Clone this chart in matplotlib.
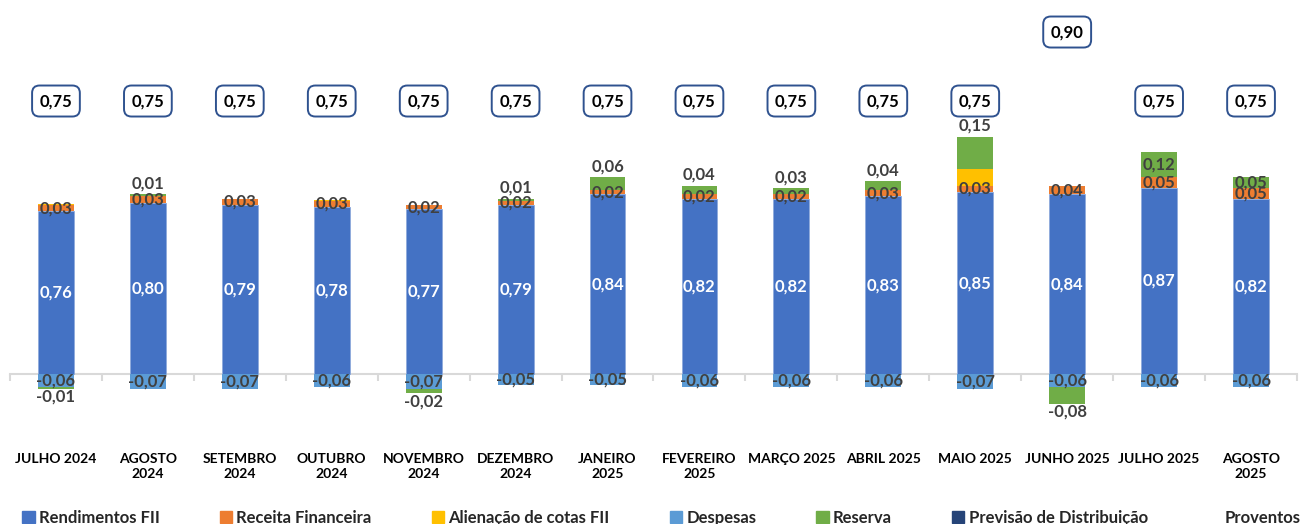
import matplotlib.pyplot as plt
from matplotlib.patches import Patch
from matplotlib.lines import Line2D
import numpy as np

plt.rcParams['font.family'] = ['Lato', 'DejaVu Sans']

# data
meses = ["JULHO 2024", "AGOSTO\n2024", "SETEMBRO\n2024", "OUTUBRO\n2024", "NOVEMBRO\n2024",
         "DEZEMBRO\n2024", "JANEIRO\n2025", "FEVEREIRO\n2025", "MARÇO 2025", "ABRIL 2025",
         "MAIO 2025", "JUNHO 2025", "JULHO 2025", "AGOSTO\n2025"]
rendimentos = [0.76, 0.80, 0.79, 0.78, 0.77, 0.79, 0.84, 0.82, 0.82, 0.83, 0.85, 0.84, 0.87, 0.82]
receita = [0.03, 0.03, 0.03, 0.03, 0.02, 0.02, 0.02, 0.02, 0.02, 0.03, 0.03, 0.04, 0.05, 0.05]
alienacao = [0.005, 0, 0, 0.005, 0, 0, 0, 0, 0, 0, 0.08, 0, 0, 0]
despesas = [-0.06, -0.07, -0.07, -0.06, -0.07, -0.05, -0.05, -0.06, -0.06, -0.06, -0.07, -0.06, -0.06, -0.06]
reserva = [-0.01, 0.01, 0, 0, -0.02, 0.01, 0.06, 0.04, 0.03, 0.04, 0.15, -0.08, 0.12, 0.05]
previsao = [0] * 14
proventos = [0.75] * 11 + [0.90, 0.75, 0.75]

C_REND = '#4472C4'
C_REC = '#ED7D31'
C_ALI = '#FFC000'
C_DESP = '#5B9BD5'
C_RES = '#70AD47'
C_PREV = '#264478'
TXT = '#404040'

# reserve labels drawn in the middle of the segment instead of above it
reserva_centro = {12, 13}


def fmt(v):
    return f"{v:.2f}".replace(".", ",")


fig = plt.figure(figsize=(13.03, 5.24), dpi=100)
ax = fig.add_axes([10 / 1303, 86 / 524, 1287 / 1303, 423 / 524])

x = np.arange(len(meses))
w = 0.39
rend = np.array(rendimentos)
rec = np.array(receita)
ali = np.array(alienacao)
desp = np.array(despesas)
res = np.array(reserva)
res_pos = np.where(res > 0, res, 0)
res_neg = np.where(res < 0, res, 0)

ax.bar(x, rend, w, color=C_REND, edgecolor='#8FAADC', linewidth=0.6)
ax.bar(x, rec, w, bottom=rend, color=C_REC)
ax.bar(x, ali, w, bottom=rend + rec, color=C_ALI)
ax.bar(x, res_pos, w, bottom=rend + rec + ali, color=C_RES)
ax.bar(x, desp, w, color=C_DESP)
ax.bar(x, res_neg, w, bottom=desp, color=C_RES)
ax.bar(x, previsao, w, color=C_PREV)

# data labels
for i in x:
    ax.text(i, rend[i] / 2, fmt(rend[i]), ha='center', va='center', color='white',
            fontsize=12, fontweight='bold')
    ax.text(i, rend[i] + rec[i] / 2, fmt(rec[i]), ha='center', va='center', color=TXT,
            fontsize=12, fontweight='bold')
    ax.text(i, desp[i] / 2, fmt(desp[i]), ha='center', va='center', color=TXT,
            fontsize=12, fontweight='bold')
    if res[i] > 0:
        topo = rend[i] + rec[i] + ali[i]
        if i in reserva_centro:
            ax.text(i, topo + res[i] / 2, fmt(res[i]), ha='center', va='center', color=TXT,
                    fontsize=12, fontweight='bold')
        else:
            ax.annotate(fmt(res[i]), (i, topo + res[i]), xytext=(0, 2), textcoords='offset points',
                        ha='center', va='bottom', color=TXT, fontsize=12, fontweight='bold')
    elif res[i] < 0:
        ax.annotate(fmt(res[i]), (i, desp[i] + res[i]), xytext=(0, 0), textcoords='offset points',
                    ha='center', va='top', color=TXT, fontsize=12, fontweight='bold')

ax.set_xlim(-0.5, len(meses) - 0.5)
ax.set_ylim(-0.299, 1.678)
for s in ['top', 'right', 'left']:
    ax.spines[s].set_visible(False)
ax.spines['bottom'].set_position(('data', 0))
ax.spines['bottom'].set_color('#D9D9D9')
ax.spines['bottom'].set_linewidth(1.5)
ax.spines['bottom'].set_zorder(0.5)
ax.set_yticks([])
ax.set_xticks(x)
ax.set_xticklabels(meses, fontsize=10, fontweight='bold', linespacing=1.3)
ax.set_xticks(np.arange(-0.5, len(meses), 1), minor=True)
ax.tick_params(axis='x', which='major', length=0, pad=57)
ax.tick_params(axis='x', which='minor', length=5, width=1.5, color='#D9D9D9')

# proventos on a secondary scale, shown as boxed labels
ax2 = ax.twinx()
ax2.set_ylim(0.0174, 0.937)
ax2.plot(x, proventos, linestyle='none')
for i in x:
    ax2.text(i, proventos[i], fmt(proventos[i]), ha='center', va='center', fontsize=12,
             fontweight='bold', color='black',
             bbox=dict(boxstyle='round,pad=0.45', fc='white', ec='#2F528F', lw=1.4))
ax2.set_yticks([])
for s in ax2.spines.values():
    s.set_visible(False)

handles = [
    Patch(color=C_REND, label='Rendimentos FII'),
    Patch(color=C_REC, label='Receita Financeira'),
    Patch(color=C_ALI, label='Alienação de cotas FII'),
    Patch(color=C_DESP, label='Despesas'),
    Patch(color=C_RES, label='Reserva'),
    Patch(color=C_PREV, label='Previsão de Distribuição'),
    Line2D([], [], linestyle='none', label='Proventos'),
]
fig.legend(handles=handles, loc='center left', bbox_to_anchor=(0.017, 0.012), ncol=7,
           frameon=False, handlelength=0.75, handleheight=0.75, handletextpad=0.25,
           columnspacing=3.6, borderpad=0, borderaxespad=0,
           prop={'size': 12, 'weight': 'bold'}, labelcolor='#262626')

fig.savefig('out.png', dpi=100)
